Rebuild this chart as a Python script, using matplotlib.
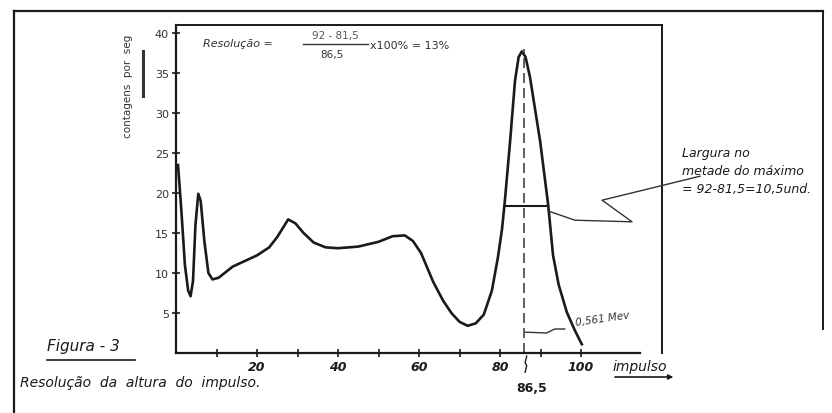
import matplotlib
matplotlib.use('Agg')
from matplotlib import pyplot as plt
import numpy as np

# curve (impulso, contagens por seg)
impulso = [0.5, 1.3, 2.2, 3.0, 3.6, 4.2, 4.8, 5.5, 6.1, 7.0, 8.0, 9.0, 10.5, 12, 14,
           17, 20, 23, 25, 27.7, 29.5, 31.5, 34, 37, 40, 45, 50, 53.5, 56.5, 58.5,
           60.5, 63.5, 66, 68, 70, 72, 74, 76, 78, 79.5, 80.5, 81.2, 82.5, 83.7,
           84.6, 85.4, 86.3, 87.4, 89.9, 91.9, 93.1, 94.5, 96.5, 98.5, 100.2]
contagens = [23.5, 18, 11, 7.8, 7.1, 9, 16, 19.9, 19, 14, 10, 9.2, 9.4, 10, 10.8,
             11.5, 12.2, 13.2, 14.5, 16.7, 16.2, 15, 13.8, 13.2, 13.1, 13.3, 13.9, 14.6, 14.7, 14.0,
             12.5, 8.9, 6.5, 5.0, 3.9, 3.4, 3.7, 4.8, 7.8, 12, 15.5, 19, 26.5, 34,
             37, 37.7, 37, 34.5, 26.5, 18.5, 12.2, 8.5, 5.1, 2.8, 1.1]

pico = 86.5
meia_altura = 18.4
largura = [81.5, 92]
xticks = [10, 20, 30, 40, 50, 60, 70, 80, 90, 100]
xlabels = ['', '20', '', '40', '', '60', '', '80', '', '100']
yticks = [5, 10, 15, 20, 25, 30, 35, 40]

# leader line from the half-max bar to the note
leader_x = [91.9, 98.5, 112.6, 105.2, 129.4]
leader_y = [17.75, 16.6, 16.4, 19.1, 22.1]

ink = '#1a1a1a'
fig = plt.figure(figsize=(8.32, 4.14), dpi=100)
ax = fig.add_axes([0, 0, 1, 1])
ax.set_xlim(-176 / 4.05, (832 - 176) / 4.05)
ax.set_ylim(-60 / 8, 354 / 8)

for s in ['top', 'right']:
    ax.spines[s].set_visible(False)
ax.spines['left'].set_bounds(0, 41)
ax.spines['bottom'].set_bounds(0, 114.5)
ax.spines['left'].set_position(('data', 0))
ax.spines['bottom'].set_position(('data', 0))
for s in ['left', 'bottom']:
    ax.spines[s].set_linewidth(1.6)
    ax.spines[s].set_color(ink)

ax.set_xticks(xticks)
ax.set_xticklabels(xlabels, fontsize=9, fontstyle='italic', fontweight='bold', color=ink)
ax.set_yticks(yticks)
ax.set_yticklabels([str(v) for v in yticks], fontsize=8, color='#333333')
ax.tick_params(direction='inout', length=6, width=1.2, color=ink, pad=2)

# inner frame
ax.plot([0, 120], [41, 41], color=ink, lw=1.4, clip_on=False)
ax.plot([120, 120], [0, 41], color=ink, lw=1.4, clip_on=False)
# outer frame
ax.plot([-40, -40], [-7.5, 42.8], color=ink, lw=1.6, clip_on=False)
ax.plot([-40, 159.8], [42.8, 42.8], color=ink, lw=1.6, clip_on=False)
ax.plot([159.8, 159.8], [42.8, 3], color=ink, lw=1.4, clip_on=False)

# curve
ax.plot(impulso, contagens, color=ink, lw=1.9, solid_joinstyle='round')

# peak marker and half width
ax.plot([pico - 0.5, pico - 0.5], [0, 38], color='#444444', lw=1.2, ls=(0, (6, 3)))
ax.plot([largura[0] - 0.3, largura[1] - 0.1], [meia_altura, meia_altura], color=ink, lw=1.5)
ax.plot(leader_x, leader_y, color='#333333', lw=1.0)

# 0,561 Mev note
ax.plot([86.3, 91.5, 93.5, 96], [2.6, 2.5, 3.0, 3.0], color='#333333', lw=1.0)
ax.text(98.5, 4.3, '0,561 Mev', fontsize=7.5, fontstyle='italic', rotation=8,
        color='#333333', ha='left', va='center')
ax.plot([86.6, 86.2, 86.6, 86.2], [-0.4, -1.2, -1.6, -2.4], color=ink, lw=1.0, clip_on=False)
ax.text(87.9, -4.3, '86,5', fontsize=9, fontweight='bold', ha='center', va='center', color=ink)

# axis titles
ax.text(107.7, -1.6, 'impulso', fontsize=10, fontstyle='italic', ha='left', va='center', color=ink)
ax.annotate('', xy=(123.5, -3.0), xytext=(107.7, -3.0),
            arrowprops=dict(arrowstyle='-|>', color=ink, lw=1.2, mutation_scale=7))
ax.text(-11.9, 33.5, 'contagens  por  seg', fontsize=7.5, rotation=90, ha='center',
        va='center', color='#333333')
ax.plot([-8.1, -8.1], [32.1, 37.7], color='#333333', lw=2.2)

# resolution formula
fs = 8
ax.text(6.7, 38.75, 'Resolução =', fontsize=fs, fontstyle='italic', ha='left', va='center', color='#333333')
ax.text(39.3, 39.7, '92 - 81,5', fontsize=fs - 0.5, ha='center', va='center', color='#555555')
ax.plot([31.4, 47.4], [38.6, 38.6], color='#333333', lw=1.0)
ax.text(38.5, 37.4, '86,5', fontsize=fs - 0.5, ha='center', va='center', color='#333333')
ax.text(47.9, 38.45, 'x100% = 13%', fontsize=fs, ha='left', va='center', color='#333333')

# half width note
note = ['Largura no', 'metade do máximo', '= 92-81,5=10,5und.']
for i, line in enumerate(note):
    ax.text(124.9, 25.1 - 2.3 * i, line, fontsize=9, fontstyle='italic', ha='left',
            va='center', color=ink)

# caption
ax.text(-31.9, 0.9, 'Figura - 3', fontsize=11, fontstyle='italic', ha='left', va='center', color=ink)
ax.plot([-31.9, -10.1], [-0.9, -0.9], color=ink, lw=1.2)
ax.text(-38.5, -3.6, 'Resolução  da  altura  do  impulso.', fontsize=10, fontstyle='italic',
        ha='left', va='center', color=ink)

fig.savefig('out.png', dpi=100, facecolor='white')
